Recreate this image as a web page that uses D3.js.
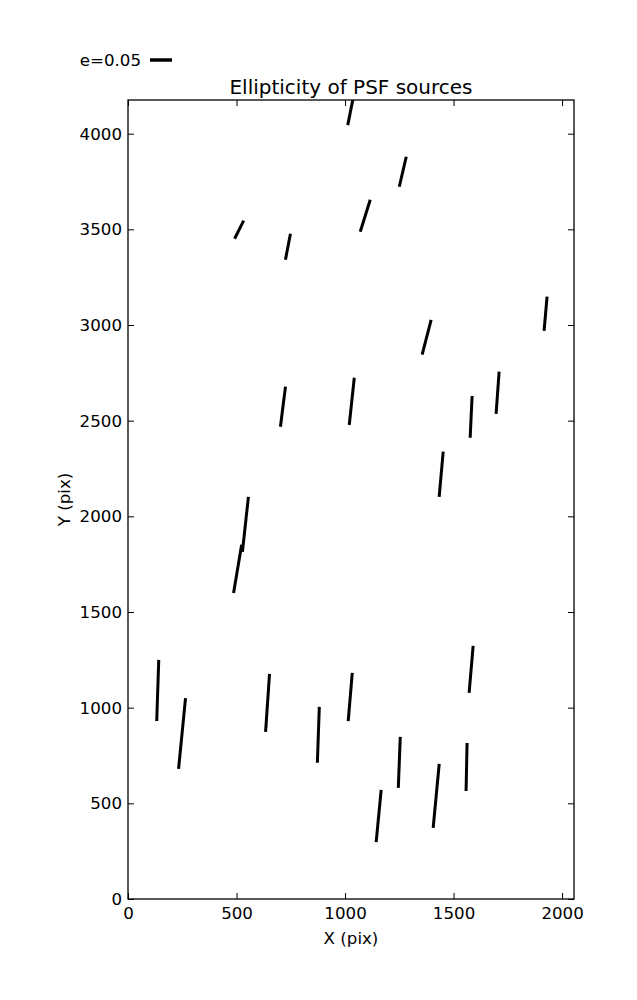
<!DOCTYPE html>
<html>
<head>
<meta charset="utf-8">
<script src="https://cdn.jsdelivr.net/npm/d3@7"></script>
<style>
  body { margin: 0; background: #fff; }
  svg { display: block; }
  text { font-family: "DejaVu Sans", sans-serif; fill: #000; }
</style>
</head>
<body>
<div id="chart"></div>
<script>
// Source centres (pix), ellipticity and position angle (deg, screen, from +X)
const xPos = [512, 737, 1027, 1266, 1093, 714, 541, 505, 1376, 1924, 1031, 1703, 1581, 1443,
              137, 249, 643, 877, 1024, 1581, 1250, 1560, 1420, 1155];
const yPos = [3498, 3409, 4127, 3801, 3571, 2573, 1958, 1725, 2936, 3059, 2601, 2646, 2520, 2220,
              1090, 865, 1025, 858, 1056, 1200, 714, 690, 539, 434];
const ellip = [0.046, 0.060, 0.073, 0.070, 0.076, 0.092, 0.126, 0.111, 0.082, 0.078, 0.108, 0.096, 0.095, 0.103,
               0.139, 0.162, 0.132, 0.127, 0.110, 0.107, 0.116, 0.109, 0.146, 0.119];
const angle = [63.4, 79.1, 78.7, 76.9, 72.6, 82.9, 83.8, 80.5, 75.6, 85.0, 83.9, 85.9, 87.3, 84.9,
               88.1, 84.4, 86.1, 88.0, 85.2, 85.1, 87.8, 88.8, 84.6, 84.5];
const xTicks = [0, 500, 1000, 1500, 2000];
const yTicks = [0, 500, 1000, 1500, 2000, 2500, 3000, 3500, 4000];
const xDomain = [0, 2055];
const yDomain = [0, 4176];
const legendE = 0.05;
const title = "Ellipticity of PSF sources";
const xLabel = "X (pix)";
const yLabel = "Y (pix)";

const W = 637, H = 1000;
const L = 128, R = 574, T = 100, B = 899;
const FS = 16.67;

const svg = d3.select("#chart").append("svg").attr("width", W).attr("height", H);

const x = d3.scaleLinear().domain(xDomain).range([L, R]);
const y = d3.scaleLinear().domain(yDomain).range([B, T]);
const eLen = d3.scaleLinear().domain([0, legendE]).range([0, 22]);

svg.append("defs").append("clipPath").attr("id", "clip")
  .append("rect").attr("x", L).attr("y", T).attr("width", R - L).attr("height", B - T);

const data = xPos.map((d, i) => ({ x: d, y: yPos[i], e: ellip[i], a: angle[i] * Math.PI / 180 }));

svg.append("g").attr("clip-path", "url(#clip)")
  .selectAll("line").data(data).join("line")
  .attr("x1", d => x(d.x) - eLen(d.e) / 2 * Math.cos(d.a))
  .attr("y1", d => y(d.y) + eLen(d.e) / 2 * Math.sin(d.a))
  .attr("x2", d => x(d.x) + eLen(d.e) / 2 * Math.cos(d.a))
  .attr("y2", d => y(d.y) - eLen(d.e) / 2 * Math.sin(d.a))
  .attr("stroke", "#000").attr("stroke-width", 3).attr("stroke-linecap", "butt");

// axes
function styleAxis(g) {
  g.select(".domain").remove();
  g.selectAll(".tick line").attr("stroke", "#000").attr("stroke-width", 1);
  g.selectAll(".tick text").attr("font-size", FS).attr("font-family", "DejaVu Sans");
}
svg.append("g").attr("transform", `translate(0,${B})`)
  .call(d3.axisBottom(x).tickValues(xTicks).tickFormat(d3.format("d")).tickSize(-6).tickPadding(8))
  .call(styleAxis);
svg.append("g").attr("transform", `translate(0,${T})`)
  .call(d3.axisTop(x).tickValues(xTicks).tickFormat("").tickSize(-6))
  .call(styleAxis);
svg.append("g").attr("transform", `translate(${L},0)`)
  .call(d3.axisLeft(y).tickValues(yTicks).tickFormat(d3.format("d")).tickSize(-6).tickPadding(6))
  .call(styleAxis);
svg.append("g").attr("transform", `translate(${R},0)`)
  .call(d3.axisRight(y).tickValues(yTicks).tickFormat("").tickSize(-6))
  .call(styleAxis);

svg.append("rect").attr("x", L).attr("y", T).attr("width", R - L).attr("height", B - T)
  .attr("fill", "none").attr("stroke", "#000").attr("stroke-width", 1.3);

// title & labels
svg.append("text").attr("x", (L + R) / 2).attr("y", 94).attr("text-anchor", "middle")
  .attr("font-size", 20).text(title);
svg.append("text").attr("x", (L + R) / 2).attr("y", 944).attr("text-anchor", "middle")
  .attr("font-size", FS).text(xLabel);
svg.append("text").attr("transform", `translate(70,${(T + B) / 2}) rotate(-90)`)
  .attr("text-anchor", "middle").attr("font-size", FS).text(yLabel);

// legend key
svg.append("text").attr("x", 141).attr("y", 66).attr("text-anchor", "end")
  .attr("font-size", FS).text("e=" + legendE.toFixed(2));
svg.append("line").attr("x1", 150).attr("x2", 150 + eLen(legendE)).attr("y1", 60).attr("y2", 60)
  .attr("stroke", "#000").attr("stroke-width", 3.5);
</script>
</body>
</html>
